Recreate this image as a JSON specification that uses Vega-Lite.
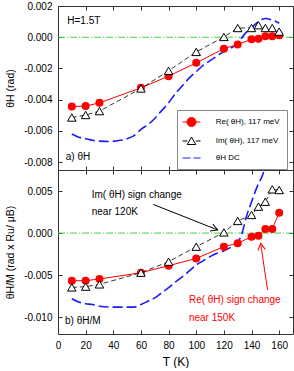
{
  "$schema": "https://vega.github.io/schema/vega-lite/v6.json",
  "background": "white",
  "padding": {"left": 5, "top": 0, "right": 0, "bottom": 0},
  "datasets": {
    "pts": [
      {"panel": "a", "series": "Re", "T": 10, "v": -0.00443},
      {"panel": "a", "series": "Re", "T": 20, "v": -0.00441},
      {"panel": "a", "series": "Re", "T": 30, "v": -0.0042},
      {"panel": "a", "series": "Re", "T": 60, "v": -0.00324},
      {"panel": "a", "series": "Re", "T": 80, "v": -0.00249},
      {"panel": "a", "series": "Re", "T": 100, "v": -0.00164},
      {"panel": "a", "series": "Re", "T": 120, "v": -0.00073},
      {"panel": "a", "series": "Re", "T": 130, "v": -0.00047},
      {"panel": "a", "series": "Re", "T": 140, "v": -0.00013},
      {"panel": "a", "series": "Re", "T": 145, "v": -0.00009},
      {"panel": "a", "series": "Re", "T": 150, "v": 0.00006},
      {"panel": "a", "series": "Re", "T": 155, "v": 0.00006},
      {"panel": "a", "series": "Re", "T": 160, "v": 0.00013},
      {"panel": "a", "series": "Im", "T": 10, "v": -0.00514},
      {"panel": "a", "series": "Im", "T": 20, "v": -0.00498},
      {"panel": "a", "series": "Im", "T": 30, "v": -0.00473},
      {"panel": "a", "series": "Im", "T": 60, "v": -0.00328},
      {"panel": "a", "series": "Im", "T": 80, "v": -0.00215},
      {"panel": "a", "series": "Im", "T": 100, "v": -0.00094},
      {"panel": "a", "series": "Im", "T": 120, "v": 0.00002},
      {"panel": "a", "series": "Im", "T": 130, "v": 0.00059},
      {"panel": "a", "series": "Im", "T": 140, "v": 0.00059},
      {"panel": "a", "series": "Im", "T": 145, "v": 0.00077},
      {"panel": "a", "series": "Im", "T": 150, "v": 0.00059},
      {"panel": "a", "series": "Im", "T": 155, "v": 0.00059},
      {"panel": "a", "series": "Im", "T": 160, "v": 0.00036},
      {"panel": "a", "series": "DC", "T": 10, "v": -0.0062},
      {"panel": "a", "series": "DC", "T": 15, "v": -0.0064},
      {"panel": "a", "series": "DC", "T": 20, "v": -0.0065},
      {"panel": "a", "series": "DC", "T": 25, "v": -0.0066},
      {"panel": "a", "series": "DC", "T": 30, "v": -0.00665},
      {"panel": "a", "series": "DC", "T": 37, "v": -0.00668},
      {"panel": "a", "series": "DC", "T": 45, "v": -0.0066},
      {"panel": "a", "series": "DC", "T": 50, "v": -0.0065},
      {"panel": "a", "series": "DC", "T": 55, "v": -0.0063},
      {"panel": "a", "series": "DC", "T": 60, "v": -0.0059},
      {"panel": "a", "series": "DC", "T": 65, "v": -0.0056},
      {"panel": "a", "series": "DC", "T": 70, "v": -0.0052},
      {"panel": "a", "series": "DC", "T": 75, "v": -0.0047},
      {"panel": "a", "series": "DC", "T": 80, "v": -0.0042},
      {"panel": "a", "series": "DC", "T": 85, "v": -0.0036},
      {"panel": "a", "series": "DC", "T": 90, "v": -0.0031},
      {"panel": "a", "series": "DC", "T": 95, "v": -0.0026},
      {"panel": "a", "series": "DC", "T": 100, "v": -0.0022},
      {"panel": "a", "series": "DC", "T": 105, "v": -0.0018},
      {"panel": "a", "series": "DC", "T": 110, "v": -0.0015},
      {"panel": "a", "series": "DC", "T": 115, "v": -0.0012},
      {"panel": "a", "series": "DC", "T": 120, "v": -0.0009},
      {"panel": "a", "series": "DC", "T": 125, "v": -0.0007},
      {"panel": "a", "series": "DC", "T": 130, "v": -0.0004},
      {"panel": "a", "series": "DC", "T": 135, "v": 0.0002},
      {"panel": "a", "series": "DC", "T": 140, "v": 0.0006},
      {"panel": "a", "series": "DC", "T": 145, "v": 0.001},
      {"panel": "a", "series": "DC", "T": 150, "v": 0.0012},
      {"panel": "a", "series": "DC", "T": 155, "v": 0.0011},
      {"panel": "a", "series": "DC", "T": 160, "v": 0.0009},
      {"panel": "b", "series": "Re", "T": 10, "v": -0.00566},
      {"panel": "b", "series": "Re", "T": 20, "v": -0.00566},
      {"panel": "b", "series": "Re", "T": 30, "v": -0.00546},
      {"panel": "b", "series": "Re", "T": 60, "v": -0.00471},
      {"panel": "b", "series": "Re", "T": 80, "v": -0.00388},
      {"panel": "b", "series": "Re", "T": 100, "v": -0.00301},
      {"panel": "b", "series": "Re", "T": 120, "v": -0.00162},
      {"panel": "b", "series": "Re", "T": 130, "v": -0.00122},
      {"panel": "b", "series": "Re", "T": 140, "v": -0.00043},
      {"panel": "b", "series": "Re", "T": 145, "v": -0.00031},
      {"panel": "b", "series": "Re", "T": 150, "v": 0.00049},
      {"panel": "b", "series": "Re", "T": 155, "v": 0.00049},
      {"panel": "b", "series": "Re", "T": 160, "v": 0.00243},
      {"panel": "b", "series": "Im", "T": 10, "v": -0.00646},
      {"panel": "b", "series": "Im", "T": 20, "v": -0.00637},
      {"panel": "b", "series": "Im", "T": 30, "v": -0.0061},
      {"panel": "b", "series": "Im", "T": 60, "v": -0.00471},
      {"panel": "b", "series": "Im", "T": 80, "v": -0.0034},
      {"panel": "b", "series": "Im", "T": 100, "v": -0.00162},
      {"panel": "b", "series": "Im", "T": 120, "v": 0.00008},
      {"panel": "b", "series": "Im", "T": 130, "v": 0.00144},
      {"panel": "b", "series": "Im", "T": 140, "v": 0.00215},
      {"panel": "b", "series": "Im", "T": 145, "v": 0.00314},
      {"panel": "b", "series": "Im", "T": 150, "v": 0.00373},
      {"panel": "b", "series": "Im", "T": 155, "v": 0.0052},
      {"panel": "b", "series": "Im", "T": 160, "v": 0.00512},
      {"panel": "b", "series": "DC", "T": 10, "v": -0.0078},
      {"panel": "b", "series": "DC", "T": 15, "v": -0.0082},
      {"panel": "b", "series": "DC", "T": 20, "v": -0.0084},
      {"panel": "b", "series": "DC", "T": 25, "v": -0.0085},
      {"panel": "b", "series": "DC", "T": 30, "v": -0.0087},
      {"panel": "b", "series": "DC", "T": 40, "v": -0.0088},
      {"panel": "b", "series": "DC", "T": 50, "v": -0.0088},
      {"panel": "b", "series": "DC", "T": 55, "v": -0.0088},
      {"panel": "b", "series": "DC", "T": 60, "v": -0.0085},
      {"panel": "b", "series": "DC", "T": 65, "v": -0.0081},
      {"panel": "b", "series": "DC", "T": 70, "v": -0.0077},
      {"panel": "b", "series": "DC", "T": 75, "v": -0.0071},
      {"panel": "b", "series": "DC", "T": 80, "v": -0.0065},
      {"panel": "b", "series": "DC", "T": 85, "v": -0.0058},
      {"panel": "b", "series": "DC", "T": 90, "v": -0.0052},
      {"panel": "b", "series": "DC", "T": 95, "v": -0.0045},
      {"panel": "b", "series": "DC", "T": 100, "v": -0.0038},
      {"panel": "b", "series": "DC", "T": 105, "v": -0.0033},
      {"panel": "b", "series": "DC", "T": 110, "v": -0.0028},
      {"panel": "b", "series": "DC", "T": 115, "v": -0.0024},
      {"panel": "b", "series": "DC", "T": 120, "v": -0.0021},
      {"panel": "b", "series": "DC", "T": 125, "v": -0.0017},
      {"panel": "b", "series": "DC", "T": 130, "v": -0.0011},
      {"panel": "b", "series": "DC", "T": 133, "v": -0.0001},
      {"panel": "b", "series": "DC", "T": 136, "v": 0.0018},
      {"panel": "b", "series": "DC", "T": 140, "v": 0.0037},
      {"panel": "b", "series": "DC", "T": 144, "v": 0.0055},
      {"panel": "b", "series": "DC", "T": 148, "v": 0.0069},
      {"panel": "b", "series": "DC", "T": 152, "v": 0.009}
    ],
    "notes": [
      {"panel": "a", "tone": "k", "label": "H=1.5T", "T": 6.7, "v": 0.00104},
      {"panel": "a", "tone": "k", "label": "a)  θH", "T": 5.6, "v": -0.00769},
      {"panel": "b", "tone": "k", "label": "Im( θH) sign change", "T": 24.4, "v": 0.00457},
      {"panel": "b", "tone": "k", "label": "near 120K", "T": 24.4, "v": 0.00246},
      {"panel": "b", "tone": "r", "label": "Re( θH) sign change", "T": 94.7, "v": -0.00792},
      {"panel": "b", "tone": "r", "label": "near 150K", "T": 94.7, "v": -0.01006},
      {"panel": "b", "tone": "k", "label": "b)  θH/M", "T": 5.1, "v": -0.01042}
    ],
    "arrows": [
      {"tone": "k", "T": 68.9, "v": 0.00341, "T2": 115.5, "v2": 0.00037},
      {"tone": "r", "T": 151.6, "v": -0.00677, "T2": 146.6, "v2": -0.00122}
    ]
  },
  "vconcat": [
    {
      "width": 235,
      "height": 164,
      "layer": [
        {
          "data": {"values": [{"v": 0}]},
          "mark": {"type": "rule", "color": "#3cd83c", "strokeDash": [7, 2, 1, 2], "strokeWidth": 1},
          "encoding": {"y": {"field": "v", "type": "quantitative", "scale": {"domain": [-0.0085, 0.002], "nice": false, "zero": false}, "axis": null}}
        },
        {
          "data": {"name": "pts"},
          "transform": [{"filter": "datum.panel=='a' && datum.series=='DC'"}],
          "mark": {"type": "line", "color": "#1a1aff", "strokeWidth": 1.6, "strokeDash": [10, 4], "interpolate": "monotone"},
          "encoding": {
            "x": {"field": "T", "type": "quantitative", "scale": {"domain": [0, 170], "nice": false, "zero": false}, "axis": {"orient": "bottom", "values": [0, 20, 40, 60, 80, 100, 120, 140, 160], "labels": false, "title": null}},
            "y": {"field": "v", "type": "quantitative", "axis": {"orient": "left", "values": [0.002, 0, -0.002, -0.004, -0.006, -0.008], "title": "θH (rad)", "labelExpr": "replace(format(datum.value,'.3f'),'−','-')"}}
          }
        },
        {
          "data": {"name": "pts"},
          "transform": [{"filter": "datum.panel=='a' && datum.series=='Re'"}],
          "mark": {"type": "line", "color": "#ff0000", "strokeWidth": 1},
          "encoding": {
            "x": {"field": "T", "type": "quantitative", "axis": {"orient": "top", "values": [0, 20, 40, 60, 80, 100, 120, 140, 160], "labels": false, "title": null}},
            "y": {"field": "v", "type": "quantitative", "axis": {"orient": "right", "values": [0.002, 0, -0.002, -0.004, -0.006, -0.008], "labels": false, "title": null}}
          }
        },
        {
          "data": {"name": "pts"},
          "transform": [{"filter": "datum.panel=='a' && datum.series=='Re'"}],
          "mark": {"type": "point", "shape": "circle", "filled": true, "color": "#ff0000", "size": 64, "opacity": 1},
          "encoding": {
            "x": {"field": "T", "type": "quantitative", "axis": null},
            "y": {"field": "v", "type": "quantitative", "axis": null}
          }
        },
        {
          "data": {"name": "pts"},
          "transform": [{"filter": "datum.panel=='a' && datum.series=='Im'"}],
          "mark": {"type": "line", "color": "#000000", "strokeWidth": 0.8, "strokeDash": [5, 3]},
          "encoding": {
            "x": {"field": "T", "type": "quantitative", "axis": null},
            "y": {"field": "v", "type": "quantitative", "axis": null}
          }
        },
        {
          "data": {"name": "pts"},
          "transform": [{"filter": "datum.panel=='a' && datum.series=='Im'"}],
          "mark": {"type": "point", "shape": "triangle-up", "filled": false, "fill": "#ffffff", "fillOpacity": 1, "stroke": "#000000", "strokeWidth": 1, "size": 72, "opacity": 1},
          "encoding": {
            "x": {"field": "T", "type": "quantitative", "axis": null},
            "y": {"field": "v", "type": "quantitative", "axis": null}
          }
        },
        {
          "data": {"name": "notes"},
          "transform": [{"filter": "datum.panel=='a'"}],
          "mark": {"type": "text", "align": "left", "baseline": "middle", "font": "Liberation Sans", "fontSize": 10, "color": "#000000"},
          "encoding": {
            "x": {"field": "T", "type": "quantitative", "axis": null},
            "y": {"field": "v", "type": "quantitative", "axis": null},
            "text": {"field": "label"}
          }
        },
        {
          "data": {"name": "pts"},
          "transform": [{"filter": "false"}],
          "mark": {"type": "point", "filled": true, "strokeWidth": 1, "opacity": 1},
          "encoding": {
            "shape": {"field": "series", "type": "nominal", "scale": {"domain": ["Re", "Im", "DC"], "range": ["M-1.8,0H1.8M-0.9,0A0.9,0.9,0,1,1,0.9,0A0.9,0.9,0,1,1,-0.9,0Z", "M-1.8,0H-0.85M0.85,0H1.8M0,-0.8L0.85,0.7L-0.85,0.7Z", "M-1.8,0H-0.2M0.4,0H1.8"]},
              "legend": {"orient": "none", "legendX": 119, "legendY": 104, "title": null, "labelExpr": "datum.value=='Re' ? 'Re( θH), 117 meV' : datum.value=='Im' ? 'Im( θH), 117 meV' : 'θH DC'"}},
            "fill": {"field": "series", "type": "nominal", "scale": {"domain": ["Re", "Im", "DC"], "range": ["#ff0000", "#ffffff", "transparent"]},
              "legend": {"orient": "none", "legendX": 119, "legendY": 104, "title": null, "labelExpr": "datum.value=='Re' ? 'Re( θH), 117 meV' : datum.value=='Im' ? 'Im( θH), 117 meV' : 'θH DC'"}},
            "stroke": {"field": "series", "type": "nominal", "scale": {"domain": ["Re", "Im", "DC"], "range": ["#ff0000", "#000000", "#1a1aff"]},
              "legend": {"orient": "none", "legendX": 119, "legendY": 104, "title": null, "labelExpr": "datum.value=='Re' ? 'Re( θH), 117 meV' : datum.value=='Im' ? 'Im( θH), 117 meV' : 'θH DC'"}}
          }
        }
      ],
      "resolve": {"axis": {"x": "independent", "y": "independent"}}
    },
    {
      "width": 235,
      "height": 164,
      "layer": [
        {
          "data": {"values": [{"v": 0}]},
          "mark": {"type": "rule", "color": "#3cd83c", "strokeDash": [7, 2, 1, 2], "strokeWidth": 1},
          "encoding": {"y": {"field": "v", "type": "quantitative", "scale": {"domain": [-0.012, 0.0075], "nice": false, "zero": false}, "axis": null}}
        },
        {
          "data": {"name": "pts"},
          "transform": [{"filter": "datum.panel=='b' && datum.series=='DC'"}],
          "mark": {"type": "line", "color": "#1a1aff", "strokeWidth": 1.6, "strokeDash": [10, 4], "interpolate": "monotone", "clip": true},
          "encoding": {
            "x": {"field": "T", "type": "quantitative", "scale": {"domain": [0, 170], "nice": false, "zero": false}, "axis": {"orient": "bottom", "values": [0, 20, 40, 60, 80, 100, 120, 140, 160], "title": "T (K)", "titleFontSize": 12, "titlePadding": 6}},
            "y": {"field": "v", "type": "quantitative", "axis": {"orient": "left", "values": [0.005, 0, -0.005, -0.01], "title": "θH/M (rad x Ru/ μB)", "labelExpr": "replace(format(datum.value,'.3f'),'−','-')"}}
          }
        },
        {
          "data": {"name": "pts"},
          "transform": [{"filter": "datum.panel=='b' && datum.series=='Re'"}],
          "mark": {"type": "line", "color": "#ff0000", "strokeWidth": 1},
          "encoding": {
            "x": {"field": "T", "type": "quantitative", "axis": {"orient": "top", "values": [0, 20, 40, 60, 80, 100, 120, 140, 160], "labels": false, "title": null}},
            "y": {"field": "v", "type": "quantitative", "axis": {"orient": "right", "values": [0.005, 0, -0.005, -0.01], "labels": false, "title": null}}
          }
        },
        {
          "data": {"name": "pts"},
          "transform": [{"filter": "datum.panel=='b' && datum.series=='Re'"}],
          "mark": {"type": "point", "shape": "circle", "filled": true, "color": "#ff0000", "size": 64, "opacity": 1},
          "encoding": {
            "x": {"field": "T", "type": "quantitative", "axis": null},
            "y": {"field": "v", "type": "quantitative", "axis": null}
          }
        },
        {
          "data": {"name": "pts"},
          "transform": [{"filter": "datum.panel=='b' && datum.series=='Im'"}],
          "mark": {"type": "line", "color": "#000000", "strokeWidth": 0.8, "strokeDash": [5, 3]},
          "encoding": {
            "x": {"field": "T", "type": "quantitative", "axis": null},
            "y": {"field": "v", "type": "quantitative", "axis": null}
          }
        },
        {
          "data": {"name": "pts"},
          "transform": [{"filter": "datum.panel=='b' && datum.series=='Im'"}],
          "mark": {"type": "point", "shape": "triangle-up", "filled": false, "fill": "#ffffff", "fillOpacity": 1, "stroke": "#000000", "strokeWidth": 1, "size": 72, "opacity": 1},
          "encoding": {
            "x": {"field": "T", "type": "quantitative", "axis": null},
            "y": {"field": "v", "type": "quantitative", "axis": null}
          }
        },
        {
          "data": {"name": "notes"},
          "transform": [{"filter": "datum.panel=='b' && datum.tone=='k'"}],
          "mark": {"type": "text", "align": "left", "baseline": "middle", "font": "Liberation Sans", "fontSize": 10, "color": "#000000"},
          "encoding": {
            "x": {"field": "T", "type": "quantitative", "axis": null},
            "y": {"field": "v", "type": "quantitative", "axis": null},
            "text": {"field": "label"}
          }
        },
        {
          "data": {"name": "notes"},
          "transform": [{"filter": "datum.panel=='b' && datum.tone=='r'"}],
          "mark": {"type": "text", "align": "left", "baseline": "middle", "font": "Liberation Sans", "fontSize": 10, "color": "#ff0000"},
          "encoding": {
            "x": {"field": "T", "type": "quantitative", "axis": null},
            "y": {"field": "v", "type": "quantitative", "axis": null},
            "text": {"field": "label"}
          }
        },
        {
          "data": {"name": "arrows"},
          "transform": [{"filter": "datum.tone=='k'"}],
          "mark": {"type": "rule", "color": "#000000", "strokeWidth": 1},
          "encoding": {
            "x": {"field": "T", "type": "quantitative", "axis": null},
            "y": {"field": "v", "type": "quantitative", "axis": null},
            "x2": {"field": "T2"},
            "y2": {"field": "v2"}
          }
        },
        {
          "data": {"name": "arrows"},
          "transform": [{"filter": "datum.tone=='k'"}],
          "mark": {"type": "point", "shape": "M-1,-0.55L0,0L-1,0.55", "filled": false, "stroke": "#000000", "strokeWidth": 1, "size": 180, "angle": 21.7, "opacity": 1},
          "encoding": {
            "x": {"field": "T2", "type": "quantitative", "axis": null},
            "y": {"field": "v2", "type": "quantitative", "axis": null}
          }
        },
        {
          "data": {"name": "arrows"},
          "transform": [{"filter": "datum.tone=='r'"}],
          "mark": {"type": "rule", "color": "#ff0000", "strokeWidth": 1},
          "encoding": {
            "x": {"field": "T", "type": "quantitative", "axis": null},
            "y": {"field": "v", "type": "quantitative", "axis": null},
            "x2": {"field": "T2"},
            "y2": {"field": "v2"}
          }
        },
        {
          "data": {"name": "arrows"},
          "transform": [{"filter": "datum.tone=='r'"}],
          "mark": {"type": "point", "shape": "M-1,-0.55L0,0L-1,0.55", "filled": false, "stroke": "#ff0000", "strokeWidth": 1, "size": 180, "angle": 261.5, "opacity": 1},
          "encoding": {
            "x": {"field": "T2", "type": "quantitative", "axis": null},
            "y": {"field": "v2", "type": "quantitative", "axis": null}
          }
        }
      ],
      "resolve": {"axis": {"x": "independent", "y": "independent"}}
    }
  ],
  "spacing": 0,
  "bounds": "flush",
  "config": {
    "font": "Liberation Sans",
    "view": {"stroke": "#333333", "strokeWidth": 1},
    "axis": {
      "domain": false,
      "grid": false,
      "tickSize": -4,
      "tickColor": "#333333",
      "tickWidth": 1,
      "labelFont": "Liberation Sans",
      "labelFontSize": 10,
      "labelColor": "#000000",
      "labelPadding": 10,
      "labelFlush": false,
      "labelOverlap": false,
      "titleFont": "Liberation Sans",
      "titleFontSize": 10.5,
      "titleFontWeight": "normal",
      "titleColor": "#000000",
      "titlePadding": 8
    },
    "legend": {
      "padding": 6.5,
      "symbolOffset": 2.5,
      "labelOffset": 18.7,
      "rowPadding": 6,
      "strokeColor": "#888888",
      "fillColor": "#ffffff",
      "symbolSize": 100,
      "symbolStrokeWidth": 1,
      "labelFont": "Liberation Sans",
      "labelFontSize": 8,
      "labelColor": "#000000",
      "cornerRadius": 0
    }
  }
}
